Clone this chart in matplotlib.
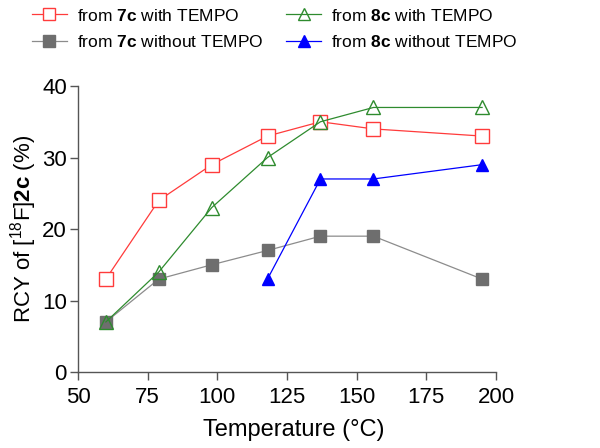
import matplotlib
matplotlib.use("Agg")
import matplotlib.pyplot as plt

plt.rcParams['font.family'] = ['Liberation Sans', 'DejaVu Sans']
plt.rcParams['mathtext.fontset'] = 'custom'
plt.rcParams['mathtext.rm'] = 'Liberation Sans'
plt.rcParams['mathtext.bf'] = 'Liberation Sans:bold'
plt.rcParams['mathtext.it'] = 'Liberation Sans:italic'

# temperatures as placed in the picture (read against the tick scale)
temps = [60, 79, 98, 118, 137, 156, 195]
rcy_7c_tempo = [13, 24, 29, 33, 35, 34, 33]
rcy_7c_no = [7, 13, 15, 17, 19, 19, 13]
rcy_8c_tempo = [7, 14, 23, 30, 35, 37, 37]
temps_8c_no = [118, 137, 156, 195]
rcy_8c_no = [13, 27, 27, 29]

labels = [r'from $\mathbf{7c}$ with TEMPO', r'from $\mathbf{7c}$ without TEMPO',
          r'from $\mathbf{8c}$ with TEMPO', r'from $\mathbf{8c}$ without TEMPO']
xticks = [50, 75, 100, 125, 150, 175, 200]
yticks = [0, 10, 20, 30, 40]

fig = plt.figure(figsize=(6, 4.48), dpi=100)
ax = fig.add_axes([0.13, 0.1696, 0.8267 - 0.13, 0.808 - 0.1696])

lw = 0.9
h1, = ax.plot(temps, rcy_7c_tempo, color='#ff3b3b', lw=lw, marker='s', ms=9.5,
              mfc='white', mec='#ff3b3b', mew=1.0, label=labels[0], zorder=3)
h2, = ax.plot(temps, rcy_7c_no, color='#8c8c8c', lw=lw, marker='s', ms=9,
              mfc='#6e6e6e', mec='#6e6e6e', label=labels[1], zorder=2)
h3, = ax.plot(temps, rcy_8c_tempo, color='#2e8b2e', lw=lw, marker='^', ms=9.5,
              mfc='none', mec='#2e8b2e', mew=1.0, label=labels[2], zorder=4)
h4, = ax.plot(temps_8c_no, rcy_8c_no, color='#0000ff', lw=lw, marker='^', ms=9,
              mfc='#0000ff', mec='#0000ff', label=labels[3], zorder=4)

ax.set_xlim(50, 200)
ax.set_ylim(0, 40)
ax.set_xticks(xticks)
ax.set_yticks(yticks)
for s in ['top', 'right']:
    ax.spines[s].set_visible(False)
for s in ['left', 'bottom']:
    ax.spines[s].set_color('#555555')
    ax.spines[s].set_linewidth(1.0)
ax.tick_params(axis='both', colors='#555555', labelcolor='black', labelsize=16,
               length=6, width=1.0)
ax.tick_params(axis='x', pad=5)
ax.tick_params(axis='y', pad=2)
ax.set_xlabel('Temperature (°C)', fontsize=17)
ax.set_ylabel(r'RCY of [$^{18}$F]$\mathbf{2c}$ (%)', fontsize=16, labelpad=2)
ax.xaxis.set_label_coords(0.515, -0.165)

fig.legend(handles=[h1, h2, h3, h4], loc='upper left', bbox_to_anchor=(0.027, 1.018),
           ncol=2, frameon=False, fontsize=12.5, handlelength=2.0, columnspacing=1.3,
           labelspacing=0.6, handletextpad=0.6, markerscale=0.9)

fig.savefig('out.png', dpi=100)
